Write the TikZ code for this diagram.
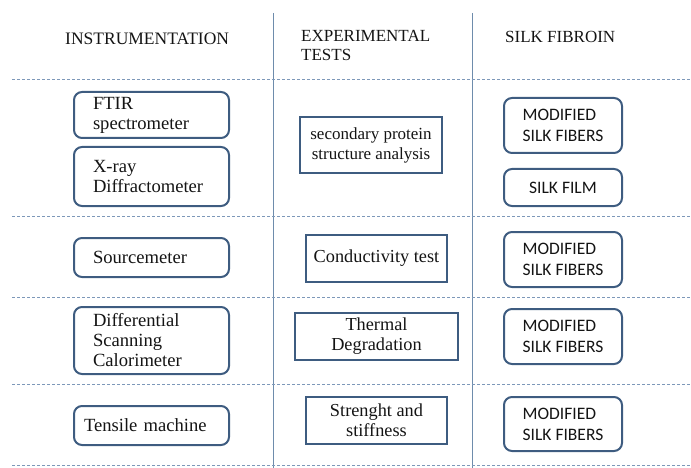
\documentclass[tikz,border=0pt]{standalone}
\usepackage{fontspec}
\setmainfont{Liberation Serif}
\newfontfamily\silkfont{Carlito}
\definecolor{boxblue}{RGB}{62,92,128}
\definecolor{rulecol}{RGB}{110,140,172}
\definecolor{dashcol}{RGB}{125,152,185}
\definecolor{inkcol}{RGB}{20,20,20}
\tikzset{
  instr/.style={draw=boxblue, line width=2pt, rounded corners=8pt, text=inkcol,
    text width=117pt, inner xsep=19pt, align=left, font=\fontsize{18.6}{20}\selectfont},
  testbox/.style={draw=boxblue, line width=2.5pt, text=inkcol, align=center,
    font=\fontsize{18.3}{20}\selectfont},
  silkbox/.style={draw=boxblue, line width=2pt, rounded corners=8pt, text=inkcol,
    minimum width=118pt, align=left, font=\silkfont\fontsize{17.5}{21}\selectfont},
  header/.style={anchor=base west, inner sep=0pt, text=inkcol, align=left,
    font=\fontsize{17.5}{19}\selectfont},
  rowsep/.style={draw=dashcol, line width=0.8pt, dash pattern=on 3pt off 2pt}
}
\begin{document}
\begin{tikzpicture}[x=1pt, y=-1pt]
  \useasboundingbox (0,0) rectangle (691,468);
  % column and row rules
  \draw[rulecol, line width=0.9pt] (273,13) -- (273,468);
  \draw[rulecol, line width=0.9pt] (472,13) -- (472,468);
  \foreach \y in {79,216,297,384,465}
    \draw[rowsep] (12,\y) -- (691,\y);
  % headers
  \node[header] (hinstr) at (65,45) {INSTRUMENTATION};
  \node[header, font=\fontsize{17}{19}\selectfont] (htests) at (301,61) {EXPERIMENTAL\\TESTS};
  \node[header, font=\fontsize{17}{19}\selectfont] (hsilk) at (505,43) {SILK FIBROIN};
  % instrumentation
  \node[instr, minimum height=46pt] (ftir) at (151.5,115) {FTIR\\spectrometer};
  \node[instr, minimum height=59pt] (xray) at (151.5,176.5) {X-ray\\Diffractometer};
  \node[instr, minimum height=39pt] (source) at (151.5,257.5) {Sourcemeter};
  \node[instr, minimum height=67pt] (dsc) at (151.5,340.5) {Differential\\Scanning\\Calorimeter};
  \node[instr, minimum height=39pt, inner xsep=10pt, text width=135pt] (tensile) at (151.5,425.5) {Tensile machine};
  % experimental tests
  \node[testbox, minimum width=142pt, minimum height=56pt, font=\fontsize{17}{20}\selectfont] (struct) at (371,145) {secondary protein\\structure analysis};
  \node[testbox, minimum width=141pt, minimum height=47pt] (conduct) at (376.5,258.5) {Conductivity test};
  \node[testbox, minimum width=163pt, minimum height=47pt] (thermal) at (376.5,336.5) {Thermal\\Degradation};
  \node[testbox, minimum width=141pt, minimum height=47pt] (strength) at (376.5,420.5) {Strenght and\\stiffness};
  % silk fibroin
  \node[silkbox, minimum height=55pt] (fibers1) at (563,125.5) {MODIFIED\\SILK FIBERS};
  \node[silkbox, minimum height=37pt] (film) at (563,187.5) {SILK FILM};
  \node[silkbox, minimum height=55pt] (fibers2) at (563,259.5) {MODIFIED\\SILK FIBERS};
  \node[silkbox, minimum height=55pt] (fibers3) at (563,336.5) {MODIFIED\\SILK FIBERS};
  \node[silkbox, minimum height=54pt] (fibers4) at (563,424) {MODIFIED\\SILK FIBERS};
\end{tikzpicture}
\end{document}
